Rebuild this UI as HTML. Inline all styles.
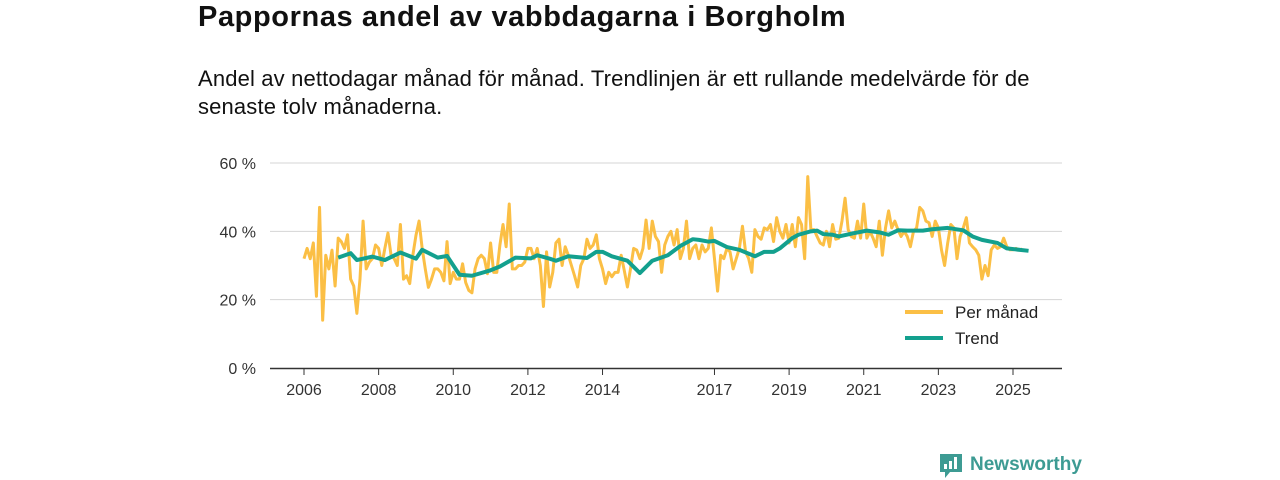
<!DOCTYPE html>
<html><head><meta charset="utf-8"><style>
body{margin:0;width:1280px;height:480px;background:#fff;font-family:"Liberation Sans",sans-serif;overflow:hidden;position:relative}
.t{position:absolute;color:#111;z-index:2}
</style></head><body>
<svg id="chart" width="1280" height="480" style="position:absolute;left:0;top:0;z-index:1" font-family="Liberation Sans, sans-serif"></svg>
<div class="t" style="left:198px;top:1px;font-size:29px;font-weight:bold;letter-spacing:0.6px">Pappornas andel av vabbdagarna i Borgholm</div>
<div class="t" style="left:198px;top:65px;font-size:22px;letter-spacing:0.15px;line-height:28px;width:860px">Andel av nettodagar månad för månad. Trendlinjen är ett rullande medelvärde för de senaste tolv månaderna.</div>
<div style="position:absolute;z-index:2;left:940px;top:452px;height:26px;display:flex;align-items:center">
<svg width="22" height="26"><path d="M0 2 H22 V20 H10 L5 26 V20 H0 Z" fill="#3d9b93"/><rect x="4" y="12" width="3" height="5" fill="#fff"/><rect x="9" y="9" width="3" height="8" fill="#fff"/><rect x="14" y="5" width="3" height="12" fill="#fff"/></svg>
<span style="margin-left:8px;font-size:19px;color:#3d9b93;font-weight:bold">Newsworthy</span></div>
<script>
const yTicks=[0,20,40,60];
const xYears=[2006,2008,2010,2012,2014,2017,2019,2021,2023,2025];
const monthly=[32,35,32,36.6,21,47,14,33,29,34.5,24,38,37,35,39,26,24,16,26,43,29,31,32,36,35,30,35,39.5,33,32,30,42,26,27,24.7,33,38.8,43,35,29,23.6,26,29,29,28,25.5,37,24.7,28,26,26,30.5,25,22.7,22,29,32,33,32,27.6,36.6,28,28,36,42,35.5,48,29,29,30,30,31,35,35,32,35,30,18,
34,23.7,28,36.6,37.7,30,35.5,33,30,27,23.7,30,32,37.7,35,36,39,32,29,24.7,28,26.7,28,28,33,28.5,23.7,29,35,34.5,32,35,43.3,35,43,38.5,37,28,36,38.5,40,36,40.5,32,35,43,32,35,36,32,36,34,35,41,32,22.5,33,32,35,34,29,32,35,41.5,34,32,28,40.5,38.5,37.7,41,40.5,42,37,44,40,38,42,
36.6,42,35.5,44,42,32,56,40.5,40.5,38.5,36.6,36,40,35.5,42,37.7,38,43,49.7,40.5,38.5,38,43,38,48,38,40,38,35.5,43,33,41,46,41,43,40.5,38.5,40,38.5,35.5,40,41,47,46,43,42.5,38.5,43,41,34.6,30,36.6,42,41,32,38.5,41,44,36.6,35.5,34.6,33,26,30,27,34.6,36,35,35.5,38,35.5,34.6,34.6,35,34.5,34.8];
const trendMonths=[11,15,17,22,26,31,36,38,43,46,50,54,60,63,68,73,75,79,81,85,91,94,96,99,104,108,112,117,121,125,127,130,132,136,140,145,148,151,153,157,159,163,165,167,170,172,177,181,185,188,191,194,199,202,207,212,215,218,223,226,233];
const trendValues=[32.3,33.6,31.6,32.6,31.6,33.8,32,34.6,32.3,32.8,27.3,27,28.6,29.7,32.3,32.1,33,32,31.4,32.7,32.2,34,34,32.7,31.4,27.8,31.4,33,35.7,37.7,37.5,37,37.2,35.4,34.6,32.7,34,34,35,38,39,40,40.2,39.2,39,38.5,39.5,40.2,39.7,39,40.3,40.2,40.2,40.6,41,40.3,38.5,37.5,36.6,35,34.3];
const svg=document.getElementById('chart');const NS='http://www.w3.org/2000/svg';
const X0=270,X1=1062;
function xm(m){return 304+m*(709/228);}
function yv(v){return 368-v*(205/60);}
function mk(t,a){const e=document.createElementNS(NS,t);for(const k in a)e.setAttribute(k,a[k]);svg.appendChild(e);return e;}
yTicks.forEach(v=>{
 if(v>0){const g=mk('line',{x1:X0,x2:X1,y1:yv(v),y2:yv(v),stroke:'#d4d4d4','stroke-width':1});
 
 }
 const t=mk('text',{x:256,y:yv(v)+6,'text-anchor':'end','font-size':16,fill:'#333'});t.textContent=v+' %';
 
 
});
const ax=mk('line',{x1:X0,x2:X1,y1:368.5,y2:368.5,stroke:'#333','stroke-width':1.5});


xYears.forEach(y=>{const x=xm((y-2006)*12);
 const tk=mk('line',{x1:x,x2:x,y1:368,y2:375,stroke:'#333','stroke-width':1});
 
 
 const t=mk('text',{x:x,y:395,'text-anchor':'middle','font-size':16,fill:'#333'});t.textContent=y;
 
 
});
const p1=mk('polyline',{points:monthly.map((v,i)=>xm(i)+','+yv(v)).join(' '),fill:'none',stroke:'#fbbf45','stroke-width':3,'stroke-linejoin':'round'});


const p2=mk('polyline',{points:trendValues.map((v,i)=>xm(trendMonths[i])+','+yv(v)).join(' '),fill:'none',stroke:'#13a08e','stroke-width':4,'stroke-linejoin':'round'});


[['Per månad','#fbbf45',312],['Trend','#13a08e',338]].forEach(([l,c,y])=>{
 const ln=mk('line',{x1:905,x2:943,y1:y,y2:y,stroke:c,'stroke-width':4});
 
 
 const t=mk('text',{x:955,y:y+6,'font-size':17,fill:'#222'});t.textContent=l;
 
 
});
</script>
</body></html>
